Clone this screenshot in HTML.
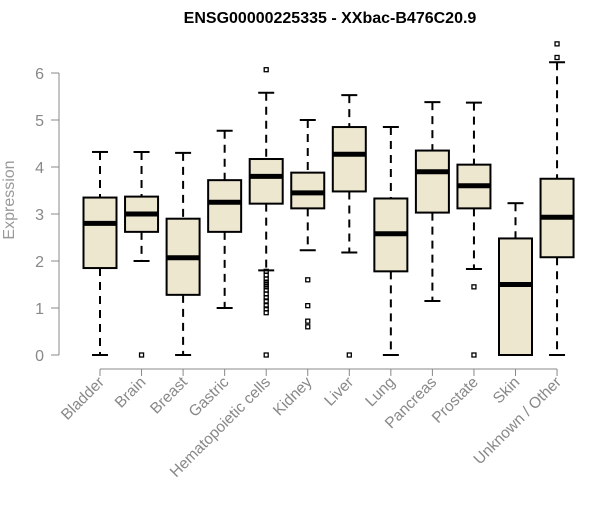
<!DOCTYPE html>
<html><head><meta charset="utf-8"><style>
body{margin:0;background:#fff;}
svg text{font-family:"Liberation Sans",Arial,sans-serif;}
</style></head><body>
<svg id="chart" width="600" height="500">
<text x="330" y="23" text-anchor="middle" font-weight="bold" font-size="16">ENSG00000225335 - XXbac-B476C20.9</text>
<text transform="translate(14,200) rotate(-90)" text-anchor="middle" font-size="16" fill="#999">Expression</text>
<g id="yaxis"></g>
<g id="xaxis"></g>
<g id="boxes"></g>
</svg>
<script>
const categories=["Bladder","Brain","Breast","Gastric","Hematopoietic cells","Kidney","Liver","Lung","Pancreas","Prostate","Skin","Unknown / Other"];
const lowWhisker=[0,2.0,0,1.0,1.8,2.23,2.18,0,1.15,1.83,0,0];
const q1=[1.85,2.62,1.28,2.62,3.22,3.12,3.48,1.78,3.03,3.12,0,2.08];
const median=[2.8,3.0,2.07,3.25,3.8,3.45,4.27,2.58,3.9,3.6,1.5,2.93];
const q3=[3.35,3.37,2.9,3.72,4.17,3.88,4.85,3.33,4.35,4.05,2.48,3.75];
const highWhisker=[4.32,4.32,4.3,4.77,5.58,5.0,5.53,4.85,5.38,5.37,3.23,6.23];
const outliers=[[],[0],[],[],[6.07,1.78,1.7,1.62,1.55,1.5,1.45,1.38,1.3,1.22,1.15,1.05,0.98,0.9,0],[1.6,1.05,0.72,0.6],[0],[],[],[1.45,0],[],[6.33,6.62]];
const yTicks=[0,1,2,3,4,5,6];
const NS="http://www.w3.org/2000/svg";
const y=v=>355-v*47;
const x=i=>100+i*41.55;
function mk(tag,attrs,parent){const e=document.createElementNS(NS,tag);for(const k in attrs)e.setAttribute(k,attrs[k]);parent.appendChild(e);return e;}
const ya=document.getElementById('yaxis'),xa=document.getElementById('xaxis'),bx=document.getElementById('boxes');
mk('line',{x1:59,x2:59,y1:y(0),y2:y(6),stroke:'#888'},ya);
yTicks.forEach(t=>{
  mk('line',{x1:51,x2:59,y1:y(t),y2:y(t),stroke:'#888'},ya);
  const tx=mk('text',{x:44,y:y(t)+6,'text-anchor':'end','font-size':16,fill:'#888'},ya);
  tx.textContent=t;
  
  
});
mk('line',{x1:x(0),x2:x(11),y1:369,y2:369,stroke:'#888'},xa);
categories.forEach((c,i)=>{
  mk('line',{x1:x(i),x2:x(i),y1:369,y2:376,stroke:'#888'},xa);
  const tx=mk('text',{transform:`translate(${x(i)+5},383) rotate(-45)`,'text-anchor':'end','font-size':15.5,fill:'#888'},xa);
  tx.textContent=c;
  
  
  const g=mk('g',{},bx);
  
  
  const cx=x(i);
  mk('line',{x1:cx,x2:cx,y1:y(highWhisker[i]),y2:y(q3[i]),stroke:'#000','stroke-width':2,'stroke-dasharray':'8,6'},g);
  mk('line',{x1:cx,x2:cx,y1:y(q1[i]),y2:y(lowWhisker[i]),stroke:'#000','stroke-width':2,'stroke-dasharray':'8,6'},g);
  mk('line',{x1:cx-8,x2:cx+8,y1:y(highWhisker[i]),y2:y(highWhisker[i]),stroke:'#000','stroke-width':2},g);
  mk('line',{x1:cx-8,x2:cx+8,y1:y(lowWhisker[i]),y2:y(lowWhisker[i]),stroke:'#000','stroke-width':2},g);
  mk('rect',{x:cx-16.5,y:y(q3[i]),width:33,height:Math.max(y(q1[i])-y(q3[i]),0.5),fill:'#ede7cf',stroke:'#000','stroke-width':2},g);
  mk('line',{x1:cx-16.5,x2:cx+16.5,y1:y(median[i]),y2:y(median[i]),stroke:'#000','stroke-width':5},g);
  outliers[i].forEach(v=>{
    const r=mk('rect',{x:cx-2,y:y(v)-2,width:4,height:4,fill:'none',stroke:'#000','stroke-width':1.3},g);
    
    
  });
});
</script>
</body></html>
